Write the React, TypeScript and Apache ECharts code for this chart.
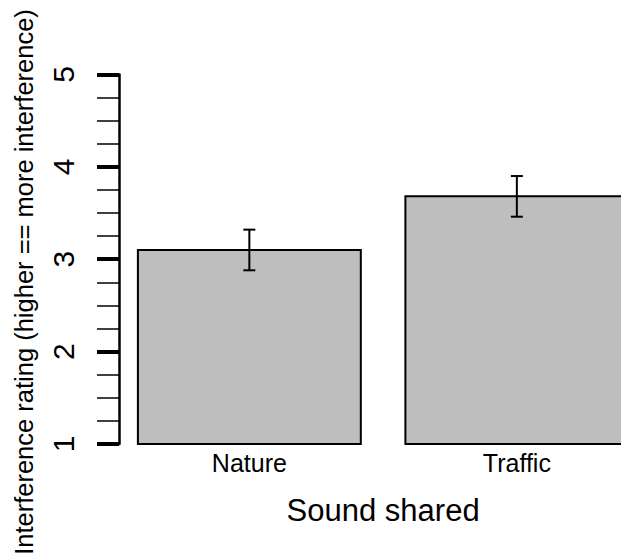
import React, { useEffect, useRef } from "react";
import * as echarts from "echarts";

const categories = ["Nature", "Traffic"];
const means = [3.1, 3.68];
const errLow = [2.88, 3.46];
const errHigh = [3.32, 3.9];
const yMin = 1;
const yMax = 5;
const xTitle = "Sound shared";
const yTitle = "Interference rating (higher == more interference)";

const FONT = "'Liberation Sans', Arial, Helvetica, sans-serif";

export default function App() {
  const ref = useRef<HTMLDivElement>(null);
  useEffect(() => {
    const chart = echarts.init(ref.current!, null, { renderer: "svg" });
    chart.setOption({
      animation: false,
      backgroundColor: "#ffffff",
      grid: { left: 115.6, top: 74.4, width: 535, height: 369.6, outerBoundsMode: "none", containLabel: false },
      xAxis: {
        type: "category",
        data: categories,
        axisLine: { show: false },
        axisTick: { show: false },
        axisLabel: { margin: 6, fontSize: 25, color: "#000", fontFamily: FONT },
        name: xTitle,
        nameLocation: "middle",
        nameGap: 51,
        nameTextStyle: { fontSize: 31, color: "#000", fontFamily: FONT },
      },
      yAxis: {
        type: "value",
        min: yMin,
        max: yMax,
        interval: 1,
        offset: -3.4,
        axisLine: { show: true, lineStyle: { color: "#000", width: 2.5 } },
        axisTick: { show: true, length: 22, lineStyle: { color: "#000", width: 4 } },
        minorTick: { show: true, splitNumber: 4, length: 22, lineStyle: { color: "#000", width: 1.5 } },
        splitLine: { show: false },
        axisLabel: { rotate: 90, margin: 41, fontSize: 30, color: "#000", fontFamily: FONT },
      },
      graphic: [
        {
          type: "text",
          x: 24,
          y: 282,
          rotation: Math.PI / 2,
          style: {
            text: yTitle,
            font: `25.5px ${FONT}`,
            fill: "#000",
            textAlign: "center",
            textVerticalAlign: "middle",
          },
        },
      ],
      series: [
        {
          type: "custom",
          name: "bars",
          data: means.map((m, i) => [i, m]),
          encode: { x: 0, y: 1 },
          renderItem: (params: any, api: any) => {
            const i = api.value(0);
            const top = api.coord([i, api.value(1)]);
            const base = api.coord([i, yMin]);
            const w = api.size([1, 0])[0] / 1.2;
            return {
              type: "rect",
              shape: { x: top[0] - w / 2, y: top[1], width: w, height: base[1] - top[1] },
              style: { fill: "#BEBEBE", stroke: "#000", lineWidth: 2 },
            };
          },
        },
        {
          type: "custom",
          name: "errors",
          data: means.map((m, i) => [i, errLow[i], errHigh[i]]),
          encode: { x: 0, y: [1, 2] },
          renderItem: (params: any, api: any) => {
            const i = api.value(0);
            const lo = api.coord([i, api.value(1)]);
            const hi = api.coord([i, api.value(2)]);
            const hw = 6;
            const st = { stroke: "#000", lineWidth: 2 };
            return {
              type: "group",
              children: [
                { type: "line", shape: { x1: lo[0], y1: lo[1], x2: hi[0], y2: hi[1] }, style: st },
                { type: "line", shape: { x1: lo[0] - hw, y1: lo[1], x2: lo[0] + hw, y2: lo[1] }, style: st },
                { type: "line", shape: { x1: hi[0] - hw, y1: hi[1], x2: hi[0] + hw, y2: hi[1] }, style: st },
              ],
            };
          },
        },
      ],
    });
    return () => chart.dispose();
  }, []);
  return (
    <div
      ref={ref}
      style={{ position: "fixed", left: 0, top: 0, width: 621, height: 558 }}
    />
  );
}
